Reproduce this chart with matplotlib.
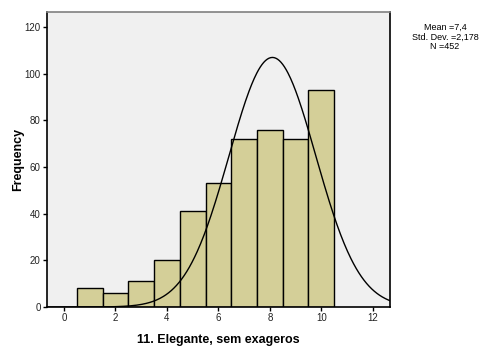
import numpy as np
import matplotlib
matplotlib.use("Agg")
import matplotlib.pyplot as plt

plt.rcParams['font.family'] = ['Liberation Sans', 'DejaVu Sans']

# Histogram data (score -> frequency)
scores = [1, 2, 3, 4, 5, 6, 7, 8, 9, 10]
freqs = [8, 6, 11, 20, 41, 53, 72, 76, 72, 93]

# Stats shown in the box
stat_mean = "7,4"
stat_sd = "2,178"
stat_n = 452

# Normal curve as drawn in the chart (centre / spread)
curve_mu = 8.1
curve_sigma = 1.685

fig = plt.figure(figsize=(4.89, 3.47), dpi=100)
ax = fig.add_axes([47 / 489, 1 - 307 / 347, 343 / 489, 295 / 347])
ax.set_facecolor('#f0f0f0')

ax.bar(scores, freqs, width=1.0, color='#d4cf98', edgecolor='black', linewidth=1.0, zorder=2)

xs = np.linspace(-0.7, 12.7, 400)
ys = stat_n * np.exp(-0.5 * ((xs - curve_mu) / curve_sigma) ** 2) / (curve_sigma * np.sqrt(2 * np.pi))
ax.plot(xs, ys, color='black', linewidth=1.0, zorder=3)

ax.set_xlim(-0.66, 12.67)
ax.set_ylim(0, 126.5)
ax.set_xticks(range(0, 13, 2))
ax.set_yticks(range(0, 121, 20))
ax.tick_params(axis='both', labelsize=7, length=3, width=1, pad=1.5, labelcolor='#222222')

for side in ['left', 'bottom', 'right']:
    ax.spines[side].set_linewidth(1.2)
    ax.spines[side].set_color('black')
ax.spines['top'].set_color('#808080')
ax.spines['top'].set_linewidth(1.2)

ax.set_xlabel("11. Elegante, sem exageros", fontsize=9, fontweight='bold', labelpad=8)
ax.set_ylabel("Frequency", fontsize=9, fontweight='bold', labelpad=0)

fig.text(445 / 489, 1 - 37 / 347,
         "Mean =" + stat_mean + "\nStd. Dev. =" + stat_sd + "\nN =" + str(stat_n),
         ha='center', va='center', fontsize=6.5, linespacing=1.05)

fig.savefig("out.png", dpi=100)
